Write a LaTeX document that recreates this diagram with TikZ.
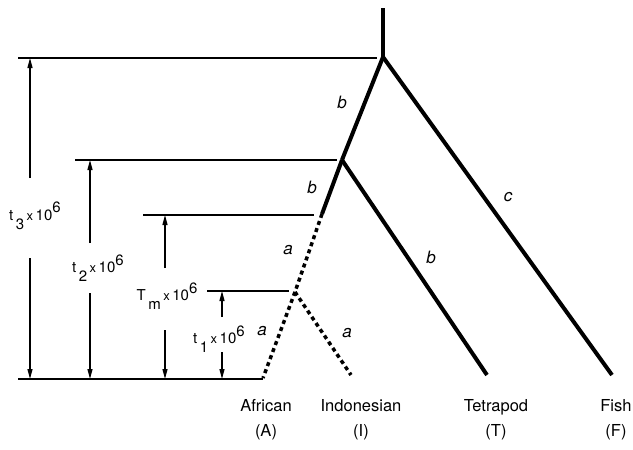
\documentclass[tikz,border=0pt]{standalone}
\usepackage{fontspec}
\setmainfont{TeX Gyre Heros}
\usetikzlibrary{arrows.meta, positioning}
\newcommand{\lowidx}[1]{\raisebox{-1.1ex}{#1}}
\newcommand{\highidx}[1]{\raisebox{1.0ex}{#1}}
\newcommand{\timex}[2]{#1\,\lowidx{#2}\,{\fontsize{13}{13}\selectfont x}\,10\highidx{6}}
\tikzset{
  branch/.style={line width=4pt},
  migr/.style={line width=3.5pt, dash pattern=on 4pt off 3.5pt},
  level/.style={line width=1.5pt},
  span/.style={-{Triangle[length=10pt, width=5pt]}, line width=1.3pt},
  brlabel/.style={font=\itshape\fontsize{17}{19}\selectfont},
  tlabel/.style={font=\fontsize{15}{18}\selectfont, inner sep=0pt},
  leaf/.style={align=center, font=\fontsize{16.5}{25}\selectfont, inner sep=0pt},
}

\begin{document}
\begin{tikzpicture}[x=1pt, y=-1pt]
  \useasboundingbox (0,0) rectangle (633,450);

  % tree junctions and tips
  \coordinate (top) at (383,8);
  \coordinate (root) at (383,57);
  \coordinate (split) at (342,160);
  \coordinate (mstart) at (322,214);
  \coordinate (mnode) at (295,292);
  \coordinate (tipA) at (263,378);
  \coordinate (tipI) at (351,375);
  \coordinate (tipT) at (487,375);
  \coordinate (tipF) at (612,375);

  \draw[branch] (top) -- (root);
  \draw[branch] (root) -- (tipF);
  \draw[branch] (root) -- (split);
  \draw[branch] (split) -- (tipT);
  \draw[branch] (split) -- (mstart);
  \draw[migr] (mstart) -- (mnode);
  \draw[migr] (mnode) -- (tipA);
  \draw[migr] (mnode) -- (tipI);

  % branch labels
  \node[brlabel] (lb1) at (342,102) {b};
  \node[brlabel] (lb2) at (312,187) {b};
  \node[brlabel] (lb3) at (431,257) {b};
  \node[brlabel] (lc) at (508,197) {c};
  \node[brlabel] (la1) at (288,250) {a};
  \node[brlabel] (la2) at (262,331) {a};
  \node[brlabel] (la3) at (347,333) {a};

  % time levels
  \coordinate (l3a) at (18,58);   \coordinate (l3b) at (377,58);
  \coordinate (l2a) at (75,160);  \coordinate (l2b) at (337,160);
  \coordinate (lma) at (143,215); \coordinate (lmb) at (314,215);
  \coordinate (l1a) at (207,291); \coordinate (l1b) at (289,291);
  \coordinate (l0a) at (18,379);  \coordinate (l0b) at (263,379);
  \draw[level] (l3a) -- (l3b);
  \draw[level] (l2a) -- (l2b);
  \draw[level] (lma) -- (lmb);
  \draw[level] (l1a) -- (l1b);
  \draw[level] (l0a) -- (l0b);

  % time spans
  \node[tlabel] (t3) at (35,216) {\timex{t}{3}};
  \node[tlabel] (t2) at (98,268) {\timex{t}{2}};
  \node[tlabel] (tm) at (167,296) {\timex{T}{m}};
  \node[tlabel] (t1) at (219,339) {\timex{t}{1}};

  \coordinate (t3u) at (30,178); \coordinate (t3d) at (30,258);
  \coordinate (t2u) at (90,243); \coordinate (t2d) at (90,293);
  \coordinate (tmu) at (165,268); \coordinate (tmd) at (165,330);
  \coordinate (t1u) at (222,317); \coordinate (t1d) at (222,352);
  \draw[span] (t3u) -- (30,58);
  \draw[span] (t3d) -- (30,379);
  \draw[span] (t2u) -- (90,160);
  \draw[span] (t2d) -- (90,379);
  \draw[span] (tmu) -- (165,215);
  \draw[span] (tmd) -- (165,379);
  \draw[span] (t1u) -- (222,291);
  \draw[span] (t1d) -- (222,379);

  % taxa
  \node[leaf] (african) at (266,420) {African\\(A)};
  \node[leaf] (indo) at (361,420) {Indonesian\\(I)};
  \node[leaf] (tetra) at (496,420) {Tetrapod\\(T)};
  \node[leaf] (fish) at (616,420) {Fish\\(F)};
\end{tikzpicture}
\end{document}
